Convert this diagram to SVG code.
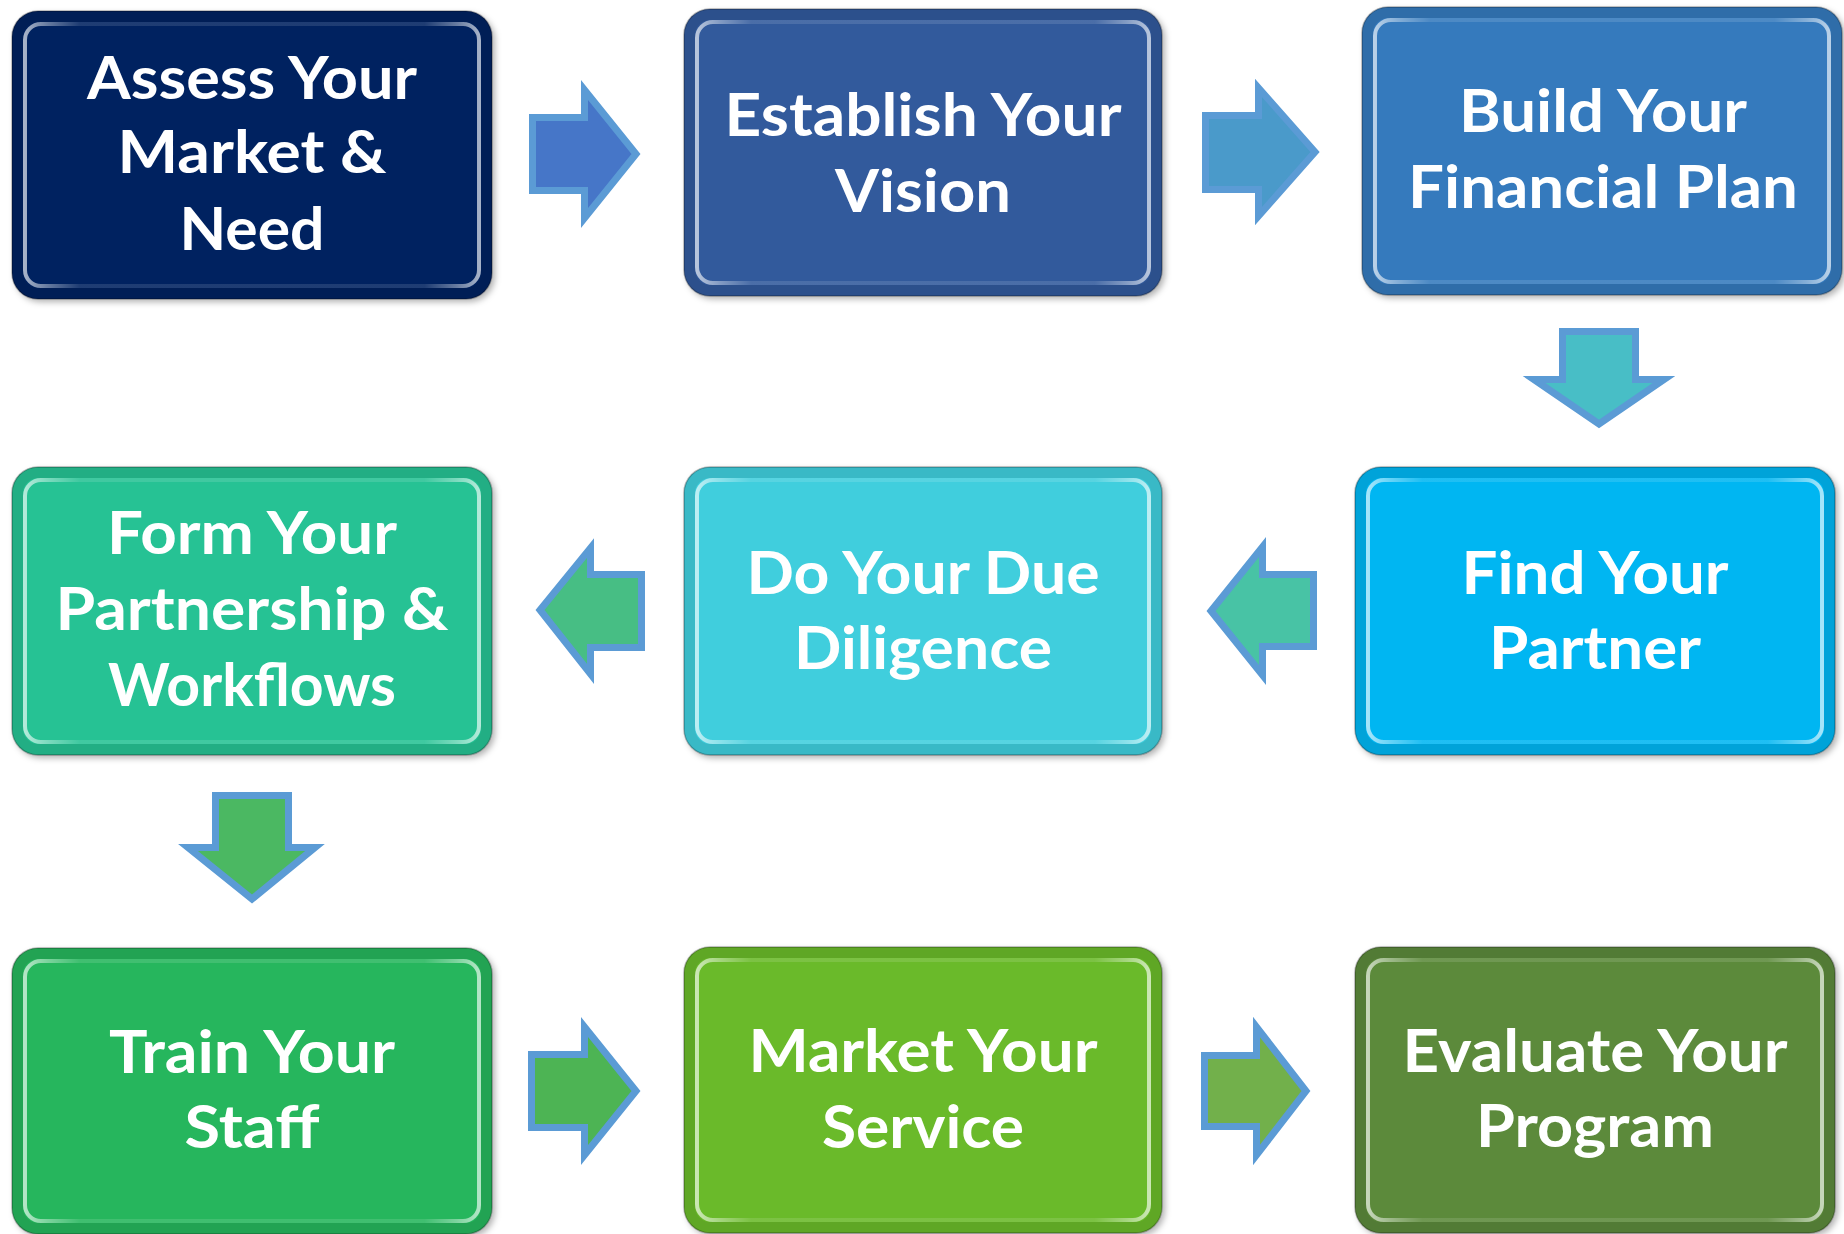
<svg xmlns="http://www.w3.org/2000/svg" width="1844" height="1234" viewBox="0 0 1844 1234">
<style>
  .lbl { font-family: Lato, "Open Sans", "Liberation Sans", sans-serif; font-weight: 700; font-size: 60px; fill: #ffffff; text-anchor: middle; }
  .edge { fill: none; stroke: #000000; stroke-opacity: 0.28; stroke-width: 1.5; }
  .ring { fill: none; stroke: #000000; stroke-opacity: 0.1; stroke-width: 11; }
  .hl { fill: none; stroke: url(#hlg); stroke-width: 4; }
  .arrow { stroke: #5B9BD5; stroke-width: 7; stroke-linejoin: miter; stroke-miterlimit: 10; }
</style>
<defs>
  <filter id="shadow" x="-5%" y="-5%" width="112%" height="112%">
    <feDropShadow dx="3" dy="3" stdDeviation="3" flood-color="#000000" flood-opacity="0.3"/>
  </filter>
  <linearGradient id="hlg" x1="0" y1="0" x2="1" y2="0">
    <stop offset="0" stop-color="#ffffff" stop-opacity="0.65"/>
    <stop offset="0.05" stop-color="#ffffff" stop-opacity="0.4"/>
    <stop offset="0.12" stop-color="#ffffff" stop-opacity="0.12"/>
    <stop offset="0.88" stop-color="#ffffff" stop-opacity="0.12"/>
    <stop offset="0.95" stop-color="#ffffff" stop-opacity="0.4"/>
    <stop offset="1" stop-color="#ffffff" stop-opacity="0.65"/>
  </linearGradient>
</defs>
<rect width="1844" height="1234" fill="#ffffff"/>

<g id="connectors">
  <polygon id="c1" class="arrow" fill="#4676C8" points="532.5,117.5 584.5,117.5 584.5,90 636,154 584.5,218 584.5,190.5 532.5,190.5"/>
  <polygon id="c2" class="arrow" fill="#4A9ACA" points="1205.5,115.5 1258.5,115.5 1258.5,88 1315,152 1258.5,216 1258.5,189.5 1205.5,189.5"/>
  <polygon id="c3" class="arrow" fill="#48BEC6" points="1562.5,331.5 1635.5,331.5 1635.5,379.5 1664,379.5 1599,424 1534,379.5 1562.5,379.5"/>
  <polygon id="c4" class="arrow" fill="#48C3A5" points="1313.5,574.5 1262.5,574.5 1262.5,547 1211,611 1262.5,675 1262.5,646.5 1313.5,646.5"/>
  <polygon id="c5" class="arrow" fill="#47BE84" points="641.5,574.5 590.5,574.5 590.5,548 540,610 590.5,674 590.5,647.5 641.5,647.5"/>
  <polygon id="c6" class="arrow" fill="#4BB862" points="215.5,795.5 288.5,795.5 288.5,847.5 315,847.5 252,899 188,847.5 215.5,847.5"/>
  <polygon id="c7" class="arrow" fill="#4DB454" points="531.5,1054.5 584.5,1054.5 584.5,1027 636,1091 584.5,1155 584.5,1127.5 531.5,1127.5"/>
  <polygon id="c8" class="arrow" fill="#72B04B" points="1204.5,1055.5 1256.5,1055.5 1256.5,1027 1306,1091 1256.5,1155 1256.5,1126.5 1204.5,1126.5"/>
</g>

<g id="n1">
  <rect x="12" y="11" width="480" height="288" rx="26" fill="#042161" filter="url(#shadow)"/>
  <rect class="ring" x="17.5" y="16.5" width="469" height="277" rx="21"/>
  <rect class="hl" x="25" y="24" width="454" height="262" rx="16"/>
  <rect class="edge" x="12" y="11" width="480" height="288" rx="26"/>
  <text class="lbl" x="252" y="99" textLength="330" lengthAdjust="spacingAndGlyphs">Assess Your</text>
  <text class="lbl" x="252" y="173" textLength="269" lengthAdjust="spacingAndGlyphs">Market &amp;</text>
  <text class="lbl" x="252" y="250" textLength="145" lengthAdjust="spacingAndGlyphs">Need</text>
</g>

<g id="n2">
  <rect x="684" y="9" width="478" height="287" rx="26" fill="#335A9C" filter="url(#shadow)"/>
  <rect class="ring" x="689.5" y="14.5" width="467" height="276" rx="21"/>
  <rect class="hl" x="697" y="22" width="452" height="261" rx="16"/>
  <rect class="edge" x="684" y="9" width="478" height="287" rx="26"/>
  <text class="lbl" x="923" y="136" textLength="397" lengthAdjust="spacingAndGlyphs">Establish Your</text>
  <text class="lbl" x="923" y="212" textLength="176" lengthAdjust="spacingAndGlyphs">Vision</text>
</g>

<g id="n3">
  <rect x="1362" y="7" width="480" height="288" rx="26" fill="#347ABD" filter="url(#shadow)"/>
  <rect class="ring" x="1367.5" y="12.5" width="469" height="277" rx="21"/>
  <rect class="hl" x="1375" y="20" width="454" height="262" rx="16"/>
  <rect class="edge" x="1362" y="7" width="480" height="288" rx="26"/>
  <text class="lbl" x="1603" y="132" textLength="288" lengthAdjust="spacingAndGlyphs">Build Your</text>
  <text class="lbl" x="1603" y="208" textLength="390" lengthAdjust="spacingAndGlyphs">Financial Plan</text>
</g>

<g id="n4">
  <rect x="1355" y="467" width="480" height="288" rx="26" fill="#03B6F2" filter="url(#shadow)"/>
  <rect class="ring" x="1360.5" y="472.5" width="469" height="277" rx="21"/>
  <rect class="hl" x="1368" y="480" width="454" height="262" rx="16"/>
  <rect class="edge" x="1355" y="467" width="480" height="288" rx="26"/>
  <text class="lbl" x="1595" y="594" textLength="267" lengthAdjust="spacingAndGlyphs">Find Your</text>
  <text class="lbl" x="1595" y="669" textLength="212" lengthAdjust="spacingAndGlyphs">Partner</text>
</g>

<g id="n5">
  <rect x="684" y="467" width="478" height="288" rx="26" fill="#40CEDD" filter="url(#shadow)"/>
  <rect class="ring" x="689.5" y="472.5" width="467" height="277" rx="21"/>
  <rect class="hl" x="697" y="480" width="452" height="262" rx="16"/>
  <rect class="edge" x="684" y="467" width="478" height="288" rx="26"/>
  <text class="lbl" x="923" y="594" textLength="353" lengthAdjust="spacingAndGlyphs">Do Your Due</text>
  <text class="lbl" x="923" y="669" textLength="258" lengthAdjust="spacingAndGlyphs">Diligence</text>
</g>

<g id="n6">
  <rect x="12" y="467" width="480" height="288" rx="26" fill="#26C294" filter="url(#shadow)"/>
  <rect class="ring" x="17.5" y="472.5" width="469" height="277" rx="21"/>
  <rect class="hl" x="25" y="480" width="454" height="262" rx="16"/>
  <rect class="edge" x="12" y="467" width="480" height="288" rx="26"/>
  <text class="lbl" x="252" y="554" textLength="290" lengthAdjust="spacingAndGlyphs">Form Your</text>
  <text class="lbl" x="252" y="630" textLength="393" lengthAdjust="spacingAndGlyphs">Partnership &amp;</text>
  <text class="lbl" x="252" y="706" textLength="288" lengthAdjust="spacingAndGlyphs">Workflows</text>
</g>

<g id="n7">
  <rect x="12" y="948" width="480" height="286" rx="26" fill="#28B65D" filter="url(#shadow)"/>
  <rect class="ring" x="17.5" y="953.5" width="469" height="275" rx="21"/>
  <rect class="hl" x="25" y="961" width="454" height="260" rx="16"/>
  <rect class="edge" x="12" y="948" width="480" height="286" rx="26"/>
  <text class="lbl" x="252" y="1073" textLength="286" lengthAdjust="spacingAndGlyphs">Train Your</text>
  <text class="lbl" x="252" y="1148" textLength="135" lengthAdjust="spacingAndGlyphs">Staff</text>
</g>

<g id="n8">
  <rect x="684" y="947" width="478" height="286" rx="26" fill="#6ABA2B" filter="url(#shadow)"/>
  <rect class="ring" x="689.5" y="952.5" width="467" height="275" rx="21"/>
  <rect class="hl" x="697" y="960" width="452" height="260" rx="16"/>
  <rect class="edge" x="684" y="947" width="478" height="286" rx="26"/>
  <text class="lbl" x="923" y="1072" textLength="349" lengthAdjust="spacingAndGlyphs">Market Your</text>
  <text class="lbl" x="923" y="1148" textLength="202" lengthAdjust="spacingAndGlyphs">Service</text>
</g>

<g id="n9">
  <rect x="1355" y="947" width="480" height="286" rx="26" fill="#5C8A3A" filter="url(#shadow)"/>
  <rect class="ring" x="1360.5" y="952.5" width="469" height="275" rx="21"/>
  <rect class="hl" x="1368" y="960" width="454" height="260" rx="16"/>
  <rect class="edge" x="1355" y="947" width="480" height="286" rx="26"/>
  <text class="lbl" x="1595" y="1072" textLength="385" lengthAdjust="spacingAndGlyphs">Evaluate Your</text>
  <text class="lbl" x="1595" y="1147" textLength="238" lengthAdjust="spacingAndGlyphs">Program</text>
</g>
</svg>
